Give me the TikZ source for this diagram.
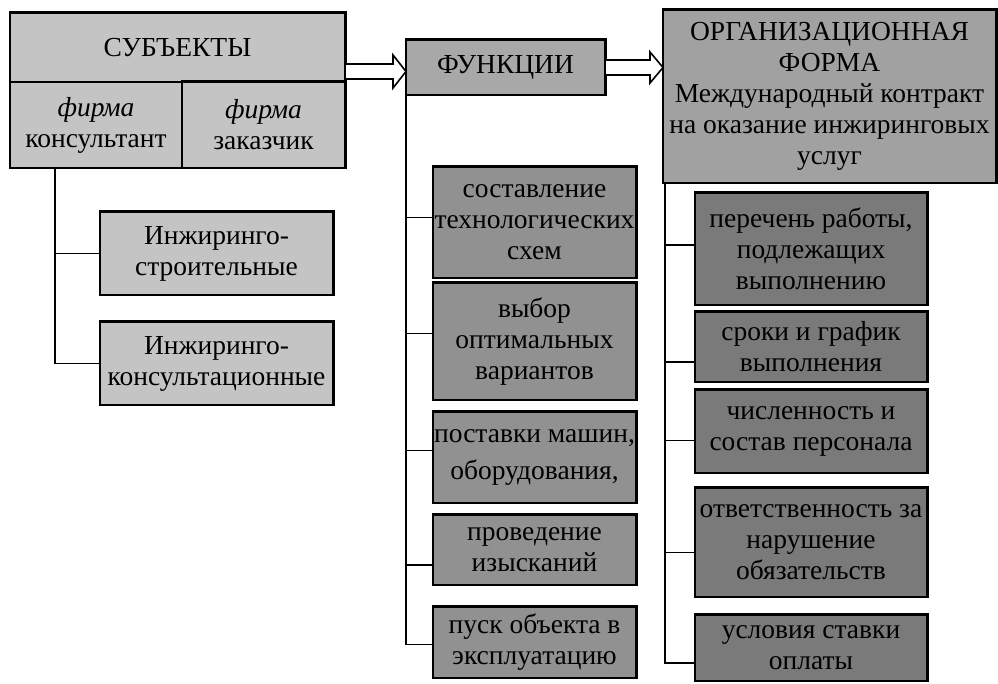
\documentclass[tikz,border=0pt]{standalone}
\usepackage{fontspec}
\setmainfont{Liberation Serif}
\begin{document}
\begin{tikzpicture}[x=1pt,y=-1pt,
  every node/.style={inner sep=0pt, align=center, font=\fontsize{27.5}{31}\selectfont},
  box/.style={draw=black, line width=1.6pt},
  lite/.style={box, fill=black!23},
  func/.style={box, fill=black!34},
  orgf/.style={box, fill=black!37},
  item/.style={box, fill=black!43},
  term/.style={box, fill=black!52},
  link/.style={draw=black, line width=1.6pt},
  hollow/.style={draw=black, fill=white, line width=1.6pt, line join=miter}]

\useasboundingbox (0,0) rectangle (998,683);

% --- subjects block ---
\node[lite, minimum width=335pt, minimum height=69pt] (subj) at (177.5,47.5) {СУБЪЕКТЫ};
\node[lite, minimum width=172pt, minimum height=86pt] (cons) at (96,125) {\textit{фирма}\\консультант};
\node[lite, minimum width=163pt, minimum height=86pt] (cust) at (263.5,125) {\textit{фирма}\\заказчик};
\node[lite, minimum width=233pt, minimum height=83pt] (ing1) at (216.5,253.5) {Инжиринго-\\строительные};
\node[lite, minimum width=233pt, minimum height=83pt] (ing2) at (216.5,363.5) {Инжиринго-\\консультационные};

% --- functions block ---
\node[func, minimum width=199pt, minimum height=55pt] (fun) at (505.5,67.5) {ФУНКЦИИ};
\node[item, minimum width=203pt, minimum height=111pt] (f1) at (534.5,222.5) {составление\\технологических\\схем};
\node[item, minimum width=203pt, minimum height=117pt] (f2) at (534.5,341.5) {выбор\\оптимальных\\вариантов};
\node[item, minimum width=203pt, minimum height=91pt] (f3) at (534.5,457.5) {поставки машин,\\[6pt]оборудования,};
\node[item, minimum width=203pt, minimum height=70pt] (f4) at (534.5,550) {проведение\\изысканий};
\node[item, minimum width=203pt, minimum height=71pt] (f5) at (534.5,642.5) {пуск объекта в\\эксплуатацию};

% --- organisational form block ---
\node[orgf, minimum width=333pt, minimum height=173pt] (org) at (829.5,96.5)
  {ОРГАНИЗАЦИОННАЯ\\ФОРМА\\Международный контракт\\на оказание инжиринговых\\услуг};
\node[term, minimum width=232pt, minimum height=112pt] (r1) at (811,249) {перечень работы,\\подлежащих\\выполнению};
\node[term, minimum width=232pt, minimum height=70pt] (r2) at (811,347) {сроки и график\\выполнения};
\node[term, minimum width=232pt, minimum height=83pt] (r3) at (811,431.5) {численность и\\состав персонала};
\node[term, minimum width=232pt, minimum height=109pt] (r4) at (811,542.5) {ответственность за\\нарушение\\обязательств};
\node[term, minimum width=232pt, minimum height=66pt] (r5) at (811,648) {условия ставки\\оплаты};

% heavier top and right edges of every box
\foreach \n in {subj,cust,ing1,ing2,fun,org,f1,f2,f3,f4,f5,r1,r2,r3,r4,r5}
  \draw[line width=3pt] (\n.north west) -- (\n.north east) -- (\n.south east);

% --- block arrows between the headings ---
\draw[hollow] (345,64) -- (393,64) -- (393,55) -- (406,71.5) -- (393,88) -- (393,79) -- (345,79) -- cycle;
\draw[hollow] (605,60) -- (650,60) -- (650,52) -- (663,67.5) -- (650,83) -- (650,75) -- (605,75) -- cycle;

% --- tree connectors ---
\coordinate (tl) at (55,168);
\draw[link] (tl) |- (ing1.west);
\draw[link] (tl) |- (ing2.west);

\coordinate (tm) at (406,95);
\draw[link] (tm) |- ([yshift=5pt]f1.west);
\draw[link] (tm) |- ([yshift=8pt]f2.west);
\draw[link] (tm) |- ([yshift=7pt]f3.west);
\draw[link] (tm) |- ([yshift=-15pt]f4.west);
\draw[link] (tm) |- ([yshift=-2pt]f5.west);

\coordinate (tr) at (665,183);
\draw[link] (tr) |- ([yshift=4pt]r1.west);
\draw[link] (tr) |- ([yshift=-15pt]r2.west);
\draw[link] (tr) |- ([yshift=-9pt]r3.west);
\draw[link] (tr) |- ([yshift=-10pt]r4.west);
\draw[link] (tr) |- ([yshift=-15pt]r5.west);
\end{tikzpicture}
\end{document}
